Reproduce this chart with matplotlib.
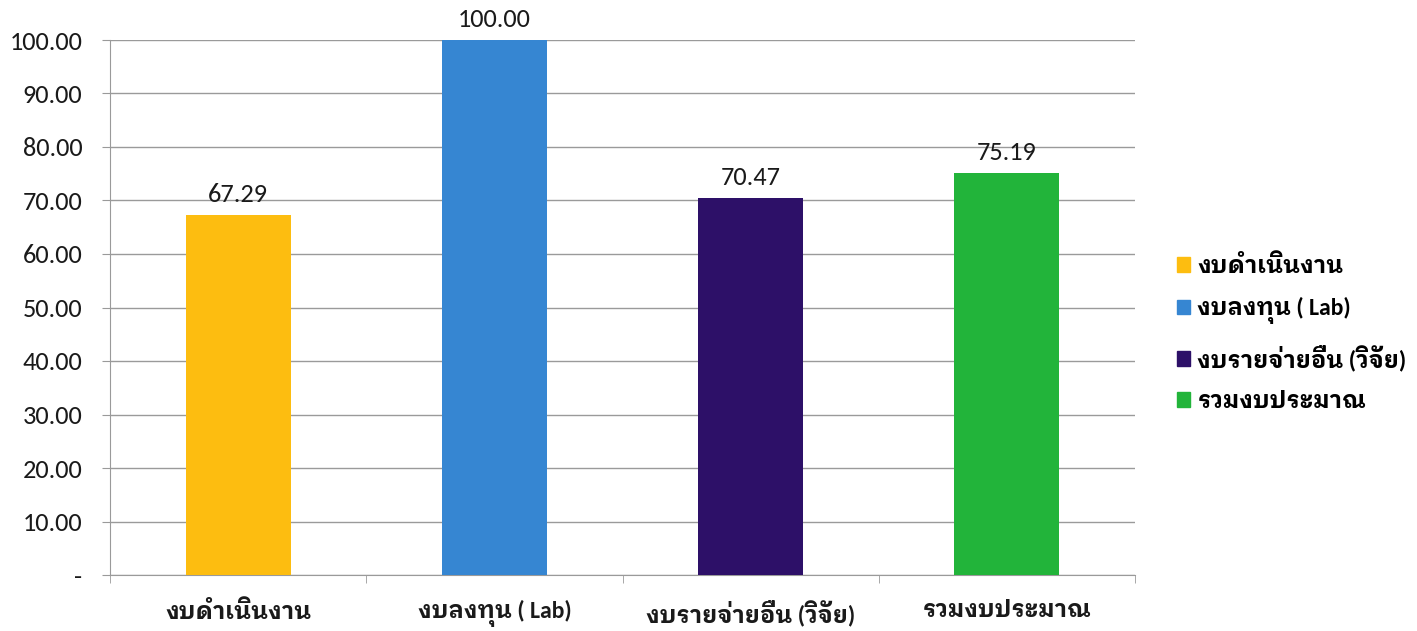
import matplotlib
matplotlib.use("Agg")
import matplotlib.pyplot as plt
from matplotlib.ticker import FuncFormatter
import numpy as np

# data ---------------------------------------------------------------
categories = ['งบดำเนินงาน', 'งบลงทุน ( Lab)', 'งบรายจ่ายอื่น (วิจัย)', 'รวมงบประมาณ']
values = [67.29, 100.00, 70.47, 75.19]
colors = ['#FDBD10', '#3686D2', '#2D1068', '#22B43A']

# Carlito for digits / latin, thai glyphs fall through to a looped thai font
plt.rcParams['font.family'] = ['Carlito', 'IBM Plex Sans Thai Looped', 'Noto Sans Thai Looped', 'DejaVu Sans']

fig = plt.figure(figsize=(14.17, 6.31), dpi=100)
ax = fig.add_axes([110/1417, 1-575/631, 1025/1417, 535/631])

x = np.arange(len(categories))
ax.bar(x, values, width=0.41, color=colors, zorder=3)

for xi, v in zip(x, values):
    ax.text(xi, v + 1.6, '%.2f' % v, ha='center', va='bottom', fontsize=19, color='#1a1a1a')

ax.set_xlim(-0.5, 3.5)
ax.set_ylim(0, 100)
ax.set_yticks(np.arange(0, 101, 10))
ax.yaxis.set_major_formatter(FuncFormatter(lambda v, p: '-' if v == 0 else '%.2f' % v))
ax.yaxis.grid(True, color='#9a9a9a', linewidth=1.0, zorder=0)
ax.set_xticks(x)
ax.set_xticklabels(categories, fontsize=17, fontweight='bold', color='#1a1a1a')
ax.set_xticks([-0.5, 0.5, 1.5, 2.5, 3.5], minor=True)
ax.tick_params(axis='x', which='major', length=0, pad=18)
ax.tick_params(axis='x', which='minor', length=6, color='#9a9a9a')
ax.tick_params(axis='y', length=6, color='#9a9a9a', labelsize=19, labelcolor='#1a1a1a', pad=14)
for s in ['top', 'right']:
    ax.spines[s].set_visible(False)
ax.spines['left'].set_color('#9a9a9a')
ax.spines['bottom'].set_color('#9a9a9a')

handles = [plt.Rectangle((0, 0), 1, 1, color=c) for c in colors]
fig.legend(handles, categories, loc='center left', bbox_to_anchor=(1156/1417, 1-333/631),
           frameon=False, prop={'size': 17, 'weight': 'bold'}, handlelength=0.55, handleheight=0.55,
           handletextpad=0.3, labelspacing=0.85)

fig.savefig('out.png', dpi=100)
